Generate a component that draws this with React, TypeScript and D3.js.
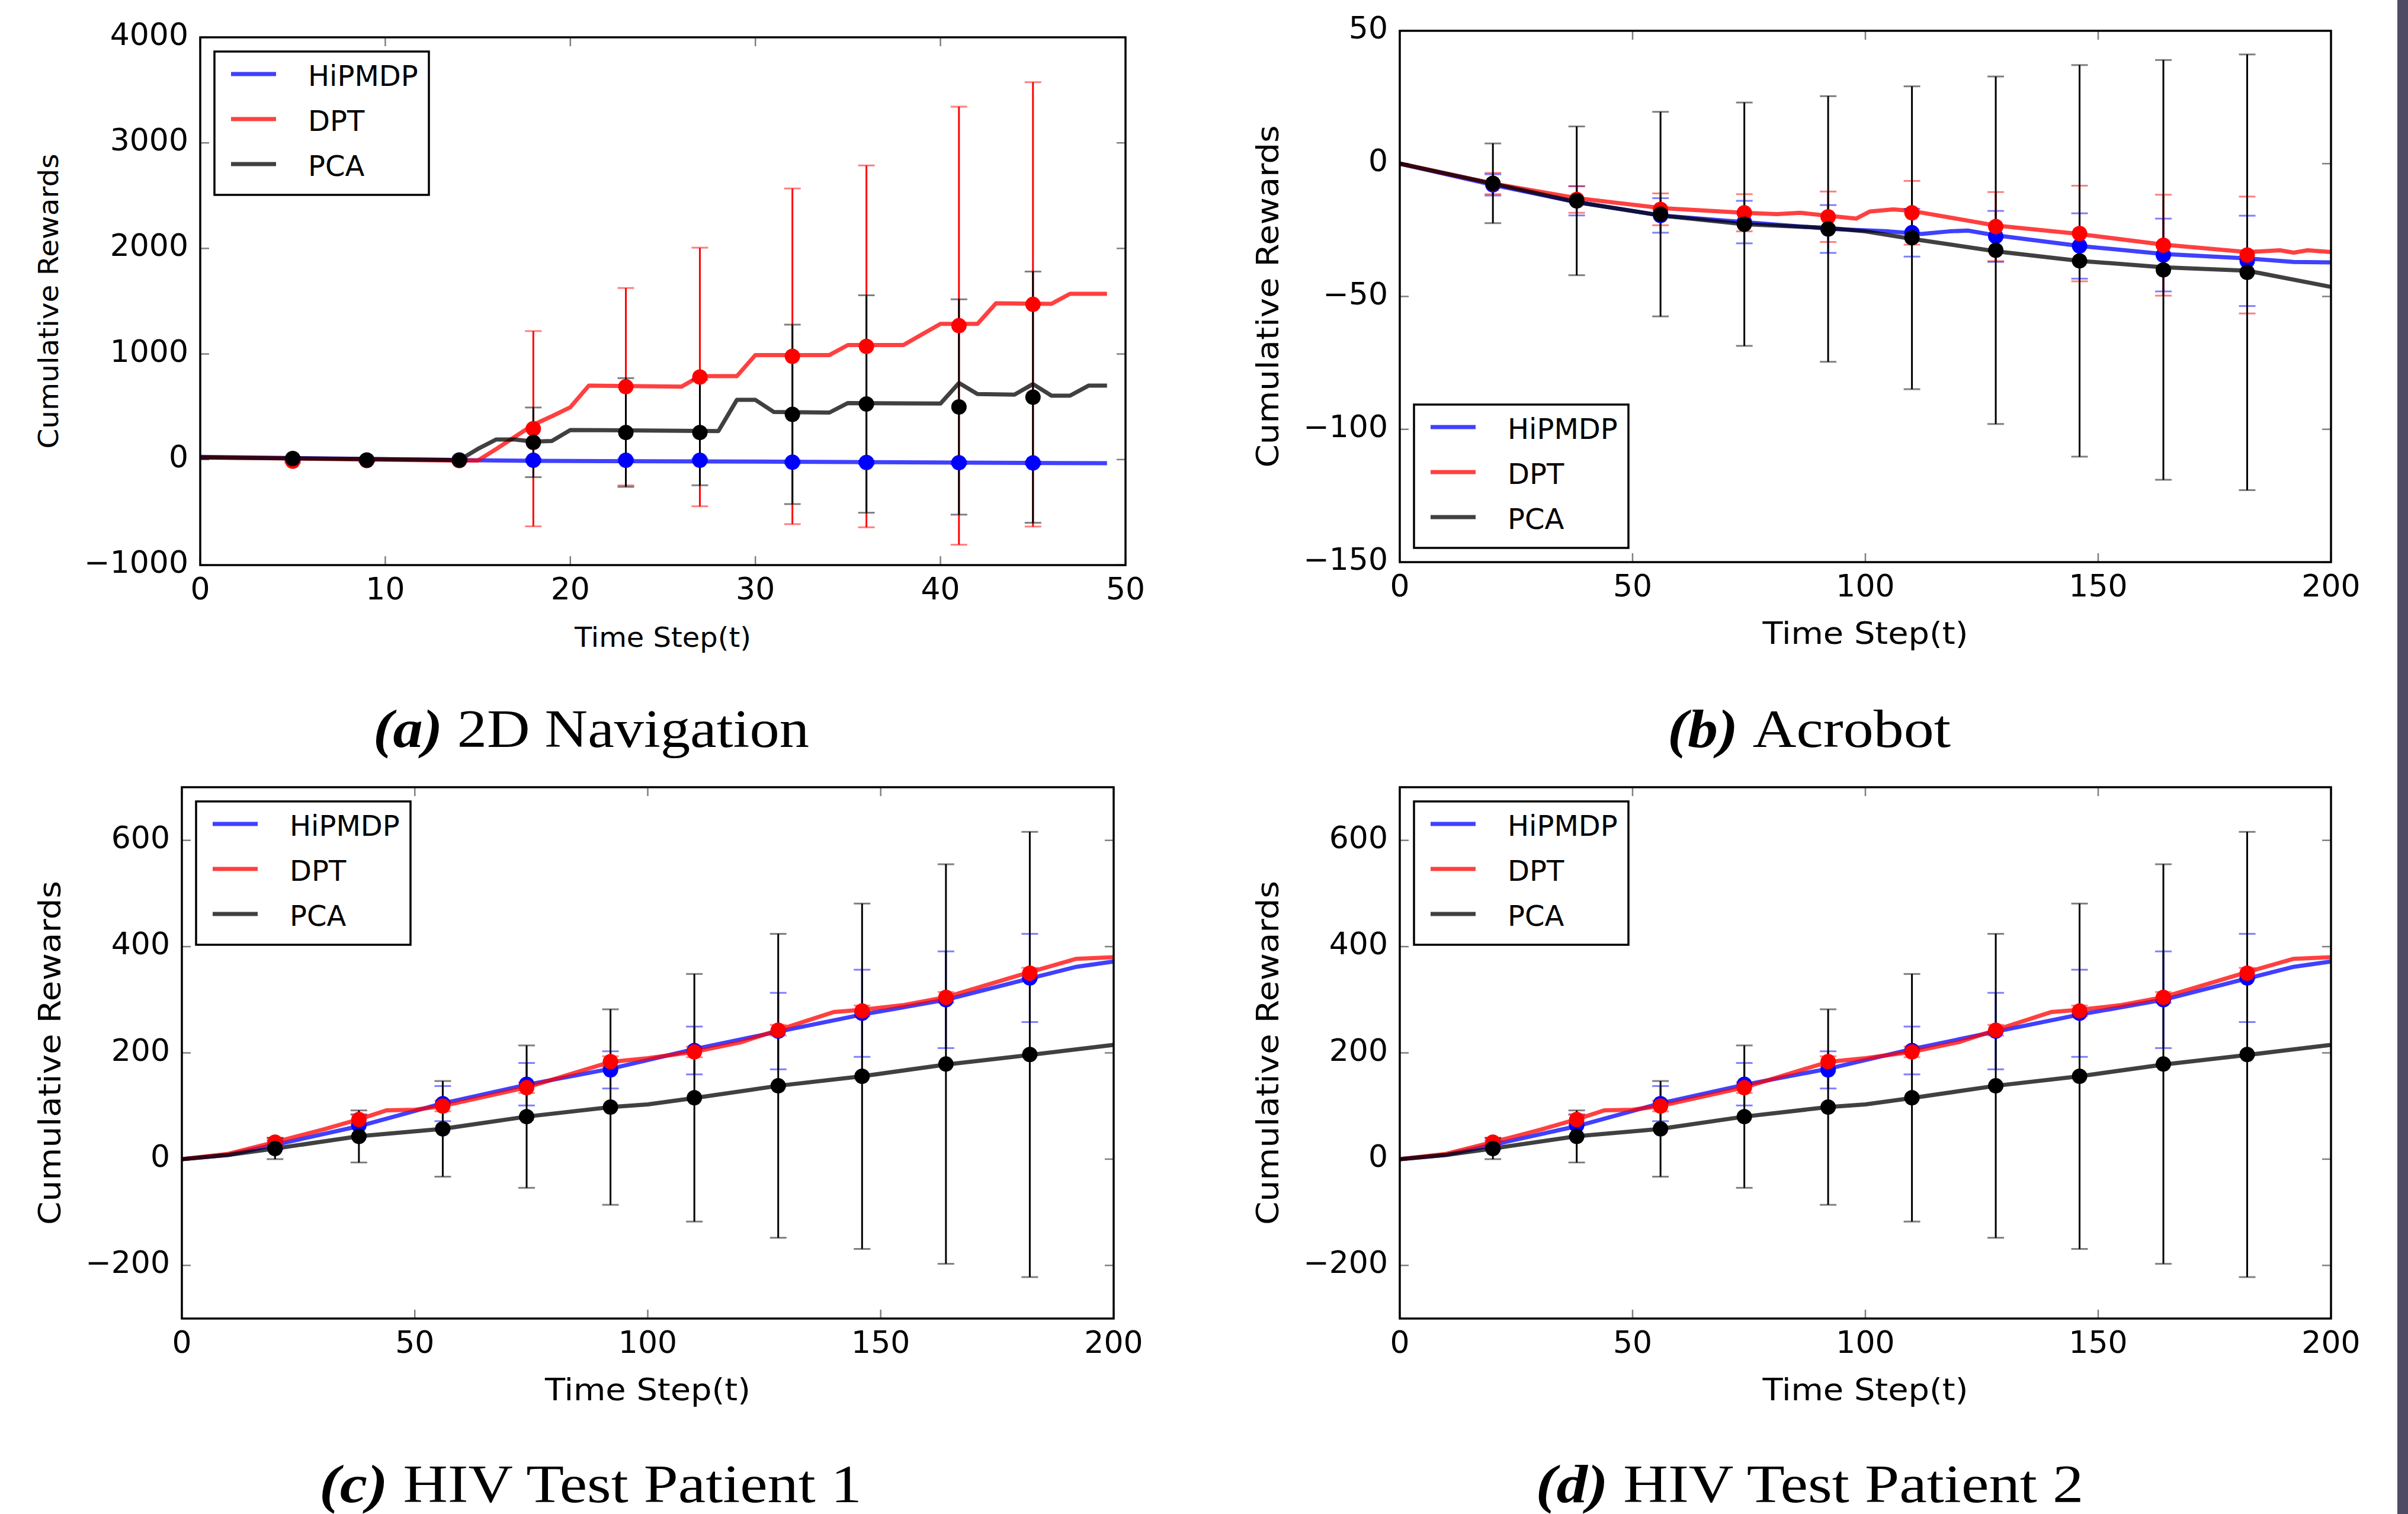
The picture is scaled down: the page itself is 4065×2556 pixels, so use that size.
import React from 'react';
import * as d3 from 'd3';

type Pt = [number, number];

// (a) 2D Navigation
const navSteps = [5, 9, 14, 18, 23, 27, 32, 36, 41, 45];
const navHipLine: Pt[] = [[0, 25], [14, -5], [18, -12], [30, -20], [49, -35]];
const navDptLine: Pt[] = [[0, 20], [14, -10], [15, -10], [16, 100], [17, 215], [18, 330], [19, 410], [20, 495], [21, 700], [26, 690], [27, 790], [29, 790], [30, 990], [34, 990], [35, 1085], [38, 1085], [40, 1285], [42, 1285], [43, 1480], [46, 1475], [47, 1570], [49, 1570]];
const navPcaLine: Pt[] = [[0, 20], [14, -5], [15, 100], [16, 190], [17, 190], [18, 170], [19, 175], [20, 280], [28, 270], [29, 565], [30, 565], [31, 450], [34, 445], [35, 535], [40, 530], [41, 725], [42, 620], [44, 615], [45, 715], [46, 605], [47, 605], [48, 700], [49, 700]];
const navHipMean = [0, -5, -5, -7, -7, -7, -25, -28, -30, -32];
const navHipErr = [10, 10, 10, 15, 15, 15, 15, 15, 15, 15];
const navDptMean = [-15, -10, -10, 292, 690, 782, 978, 1072, 1268, 1470];
const navDptErr = [15, 15, 15, 925, 935, 1225, 1590, 1714, 2075, 2105];
const navPcaMean = [10, -5, -5, 163, 256, 256, 428, 526, 498, 591];
const navPcaErr = [10, 10, 10, 330, 515, 500, 850, 1030, 1020, 1190];

// (b) Acrobot
const acroSteps = [20, 38, 56, 74, 92, 110, 128, 146, 164, 182];
const acroHipLine: Pt[] = [[0, 0], [20, -8], [38, -14.5], [56, -19.5], [74, -22], [92, -24.5], [105, -25.5], [112, -26.5], [118, -25.5], [122, -25.2], [128, -27], [146, -31], [164, -34], [182, -35.7], [192, -37], [200, -37.2]];
const acroDptLine: Pt[] = [[0, 0], [20, -7.5], [38, -13], [56, -16.7], [74, -18.5], [81, -19], [86, -18.5], [92, -19.6], [98, -20.7], [101, -18], [106, -17.2], [110, -17.8], [128, -23.3], [146, -26.5], [164, -30.5], [182, -33.3], [189, -32.6], [192, -33.5], [195, -32.6], [200, -33.3]];
const acroPcaLine: Pt[] = [[0, 0], [20, -7.5], [38, -14.5], [56, -19.5], [74, -22.8], [92, -24.2], [100, -25.5], [110, -28.3], [128, -33], [146, -36.6], [164, -39], [182, -40.3], [200, -46.4]];
const acroHipMean = [-8, -14, -19.5, -22, -24.6, -26, -27.4, -31, -34.4, -36.6];
const acroHipErr = [4, 5.5, 6.5, 8, 9, 9, 9.6, 12.3, 13.7, 17];
const acroDptMean = [-7.5, -13.5, -17.2, -18.5, -20, -18.5, -23.7, -26.3, -30.7, -34.4];
const acroDptErr = [4, 5, 6, 7, 9.5, 12, 13, 18, 19, 22];
const acroPcaMean = [-7.4, -14, -19, -22.8, -24.6, -27.9, -32.6, -36.6, -40, -40.9];
const acroPcaErr = [15, 28, 38.5, 45.8, 50, 57, 65.4, 73.7, 79, 82];

// (c), (d) HIV test patients (same curves in both panels)
const hivSteps = [20, 38, 56, 74, 92, 110, 128, 146, 164, 182];
const hivHipLine: Pt[] = [[0, 0], [10, 8], [20, 27], [38, 62], [56, 105], [74, 140], [92, 170], [110, 207], [128, 240], [146, 272], [164, 300], [182, 340], [192, 362], [200, 372]];
const hivDptLine: Pt[] = [[0, 0], [10, 10], [20, 32], [30, 55], [38, 75], [44, 92], [50, 93], [56, 100], [74, 135], [92, 183], [100, 190], [110, 202], [120, 220], [128, 243], [140, 277], [146, 281], [155, 290], [164, 305], [182, 352], [192, 377], [200, 380]];
const hivPcaLine: Pt[] = [[0, 0], [10, 8], [20, 20], [38, 43], [56, 57], [74, 80], [92, 98], [100, 103], [110, 115], [128, 138], [146, 156], [164, 178], [182, 196], [200, 215]];
const hivHipMean = [27, 63.6, 104.5, 141, 168, 204.5, 241, 274.5, 300, 341];
const hivHipErr = [8, 20, 33, 40, 35, 45, 72, 82, 91, 83];
const hivDptMean = [32, 74.5, 100, 134.5, 183.6, 201.8, 242.7, 279, 304.5, 350];
const hivDptErr = [8, 10, 10, 10, 10, 10, 10, 10, 10, 10];
const hivPcaMean = [20, 42.7, 57, 80, 98, 115.5, 138, 156, 179, 197];
const hivPcaErr = [20, 49, 90, 134, 184, 233, 286, 325, 376, 419];

const legendNames = ['HiPMDP', 'DPT', 'PCA'];
const seriesColors = ['#0000ff', '#ff0000', '#000000'];

const navXTicks = [0, 10, 20, 30, 40, 50];
const navYTicks = [-1000, 0, 1000, 2000, 3000, 4000];
const acroXTicks = [0, 50, 100, 150, 200];
const acroYTicks = [-150, -100, -50, 0, 50];
const hivXTicks = [0, 50, 100, 150, 200];
const hivYTicks = [-200, 0, 200, 400, 600];

const SANS = '"DejaVu Sans", "Noto Sans", sans-serif';
const SERIF = '"Liberation Serif", "DejaVu Serif", serif';

const fmt = (v: number) => (v < 0 ? '\u2212' + Math.abs(v) : String(v));

function Panel(props: any) {
  const { box, xDomain, yDomain, xTicks, yTicks, steps, lines, means, errs, legendLow, lab, title } = props;
  const x = d3.scaleLinear().domain(xDomain).range([box.left, box.right]);
  const y = d3.scaleLinear().domain(yDomain).range([box.bottom, box.top]);
  const line = d3.line<Pt>().x(d => x(d[0])).y(d => y(d[1]));

  const lgW = 362, lgH = 242;
  const lx = box.left + 24;
  const ly = legendLow ? box.bottom - 24 - lgH : box.top + 24;
  const tickLen = 15;
  const midX = (box.left + box.right) / 2;
  const midY = (box.top + box.bottom) / 2;

  return (
    <g>
      {lines.map((ln: Pt[], i: number) => (
        <path key={'l' + i} d={line(ln) || ''} fill="none" stroke={seriesColors[i]} strokeOpacity={0.75} strokeWidth={7} strokeLinejoin="round" />
      ))}
      {errs.map((er: number[], i: number) => (
        <g key={'e' + i}>
          {steps.map((s: number, j: number) => {
            const hi = y(means[i][j] + er[j]);
            const lo = y(means[i][j] - er[j]);
            return (
              <g key={j}>
                <line x1={x(s)} x2={x(s)} y1={hi} y2={lo} stroke={seriesColors[i]} strokeWidth={3} />
                <line x1={x(s) - 14} x2={x(s) + 14} y1={hi} y2={hi} stroke={seriesColors[i]} strokeWidth={3} strokeOpacity={0.5} />
                <line x1={x(s) - 14} x2={x(s) + 14} y1={lo} y2={lo} stroke={seriesColors[i]} strokeWidth={3} strokeOpacity={0.5} />
              </g>
            );
          })}
        </g>
      ))}
      {means.map((m: number[], i: number) => (
        <g key={'m' + i}>
          {steps.map((s: number, j: number) => (
            <circle key={j} cx={x(s)} cy={y(m[j])} r={13} fill={seriesColors[i]} />
          ))}
        </g>
      ))}

      {/* ticks inside on all four sides */}
      {xTicks.map((t: number) => (
        <g key={'xt' + t} stroke="#000" strokeWidth={2.5} strokeOpacity={0.5}>
          <line x1={x(t)} x2={x(t)} y1={box.bottom} y2={box.bottom - tickLen} />
          <line x1={x(t)} x2={x(t)} y1={box.top} y2={box.top + tickLen} />
        </g>
      ))}
      {yTicks.map((t: number) => (
        <g key={'yt' + t} stroke="#000" strokeWidth={2.5} strokeOpacity={0.5}>
          <line x1={box.left} x2={box.left + tickLen} y1={y(t)} y2={y(t)} />
          <line x1={box.right} x2={box.right - tickLen} y1={y(t)} y2={y(t)} />
        </g>
      ))}
      <rect x={box.left} y={box.top} width={box.right - box.left} height={box.bottom - box.top} fill="none" stroke="#000" strokeWidth={3.5} />

      <g fontFamily={SANS} fontSize={52} fill="#000">
        {xTicks.map((t: number) => (
          <text key={'xl' + t} x={x(t)} y={box.bottom + 58} textAnchor="middle">{fmt(t)}</text>
        ))}
        {yTicks.map((t: number) => (
          <text key={'yl' + t} x={box.left - 20} y={y(t) + 13} textAnchor="end">{fmt(t)}</text>
        ))}
      </g>
      <text x={midX} y={box.bottom + 138} textAnchor="middle" fontFamily={SANS} fontSize={lab.xSize} textLength={lab.xLen} lengthAdjust="spacingAndGlyphs">Time Step(t)</text>
      <text transform={`translate(${lab.yX},${midY}) rotate(-90)`} textAnchor="middle" fontFamily={SANS} fontSize={lab.ySize} textLength={lab.yLen} lengthAdjust="spacingAndGlyphs">Cumulative Rewards</text>

      <g>
        <rect x={lx} y={ly} width={lgW} height={lgH} fill="#fff" stroke="#000" strokeWidth={3.5} />
        {legendNames.map((nm, i) => (
          <g key={nm}>
            <line x1={lx + 28} x2={lx + 104} y1={ly + 38 + i * 76} y2={ly + 38 + i * 76} stroke={seriesColors[i]} strokeOpacity={0.75} strokeWidth={7} />
            <text x={lx + 158} y={ly + 58 + i * 76} fontFamily={SANS} fontSize={48}>{nm}</text>
          </g>
        ))}
      </g>

      <text x={title.cx} y={title.base} textAnchor="middle" fontFamily={SERIF} fontSize={90} textLength={title.len} lengthAdjust="spacingAndGlyphs">
        <tspan fontStyle="italic" fontWeight="bold">({title.tag})</tspan>
        <tspan dx={22}>{title.text}</tspan>
      </text>
    </g>
  );
}

export default function App() {
  const W = 4065, H = 2556;
  return (
    <svg width={W} height={H} style={{ position: 'absolute', left: 0, top: 0, background: '#fff' }}>
      <rect x={0} y={0} width={W} height={H} fill="#fff" />
      <Panel
        box={{ left: 338, right: 1900, top: 63, bottom: 954 }}
        xDomain={[0, 50]} yDomain={[-1000, 4000]} xTicks={navXTicks} yTicks={navYTicks}
        steps={navSteps}
        lines={[navHipLine, navDptLine, navPcaLine]}
        means={[navHipMean, navDptMean, navPcaMean]}
        errs={[navHipErr, navDptErr, navPcaErr]}
        legendLow={false}
        lab={{ xSize: 46, xLen: 298, ySize: 46, yLen: 498, yX: 98 }}
        title={{ tag: 'a', text: '2D Navigation', cx: 998, base: 1261, len: 736 }}
      />
      <Panel
        box={{ left: 2363, right: 3935, top: 52, bottom: 949 }}
        xDomain={[0, 200]} yDomain={[-150, 50]} xTicks={acroXTicks} yTicks={acroYTicks}
        steps={acroSteps}
        lines={[acroHipLine, acroDptLine, acroPcaLine]}
        means={[acroHipMean, acroDptMean, acroPcaMean]}
        errs={[acroHipErr, acroDptErr, acroPcaErr]}
        legendLow={true}
        lab={{ xSize: 52, xLen: 347, ySize: 52, yLen: 578, yX: 2158 }}
        title={{ tag: 'b', text: 'Acrobot', cx: 3054, base: 1261, len: 478 }}
      />
      <Panel
        box={{ left: 307, right: 1880, top: 1329, bottom: 2226 }}
        xDomain={[0, 200]} yDomain={[-300, 700]} xTicks={hivXTicks} yTicks={hivYTicks}
        steps={hivSteps}
        lines={[hivHipLine, hivDptLine, hivPcaLine]}
        means={[hivHipMean, hivDptMean, hivPcaMean]}
        errs={[hivHipErr, hivDptErr, hivPcaErr]}
        legendLow={false}
        lab={{ xSize: 52, xLen: 347, ySize: 52, yLen: 581, yX: 102 }}
        title={{ tag: 'c', text: 'HIV Test Patient 1', cx: 997, base: 2536, len: 916 }}
      />
      <Panel
        box={{ left: 2363, right: 3935, top: 1329, bottom: 2226 }}
        xDomain={[0, 200]} yDomain={[-300, 700]} xTicks={hivXTicks} yTicks={hivYTicks}
        steps={hivSteps}
        lines={[hivHipLine, hivDptLine, hivPcaLine]}
        means={[hivHipMean, hivDptMean, hivPcaMean]}
        errs={[hivHipErr, hivDptErr, hivPcaErr]}
        legendLow={false}
        lab={{ xSize: 52, xLen: 347, ySize: 52, yLen: 581, yX: 2158 }}
        title={{ tag: 'd', text: 'HIV Test Patient 2', cx: 3055, base: 2536, len: 925 }}
      />
      <rect x={4047} y={0} width={18} height={H} fill="#4f4b64" />
    </svg>
  );
}
